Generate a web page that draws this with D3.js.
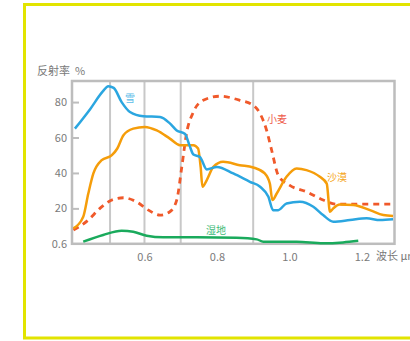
<!DOCTYPE html>
<html><head><meta charset="utf-8">
<script src="https://cdn.jsdelivr.net/npm/d3@7"></script>
<style>body{margin:0;background:#fff;}svg{display:block;font-family:"Noto Sans CJK SC","Noto Sans",sans-serif;}</style>
</head><body>
<svg id="c" width="410" height="341"></svg>
<script>
const xTicks = [0.6, 0.8, 1.0, 1.2];
const xTickLabels = ["0.6", "0.8", "1.0", "1.2"];
const yTicks = [0, 20, 40, 60, 80];
const yTickLabels = ["0.6", "20", "40", "60", "80"];
const gridX = [0.505, 0.6, 0.7, 0.9];
const seriesNames = ["雪", "小麦", "沙漠", "湿地"];

const snow = [[0.408,65],[0.45,76],[0.485,86],[0.5,89],[0.515,88],[0.537,80],[0.56,74.4],[0.597,72],[0.643,71.6],[0.67,68],[0.689,64],[0.712,62],[0.724,55.7],[0.735,50.4],[0.753,49],[0.772,42],[0.8,43.4],[0.845,39.7],[0.891,35],[0.919,32.2],[0.942,26.5],[0.955,19],[0.969,19],[0.992,22.8],[1.029,23.7],[1.066,20.9],[1.093,16.2],[1.121,12.5],[1.167,13.4],[1.213,14.4],[1.25,13.4],[1.286,13.8]];
const wheat = [[0.404,7.8],[0.445,13.4],[0.477,20],[0.51,24.7],[0.542,26],[0.578,23.7],[0.611,19],[0.643,16.2],[0.67,18.1],[0.689,24.7],[0.703,43.4],[0.716,62.3],[0.735,74.4],[0.762,81],[0.808,83.3],[0.863,81],[0.9,78.2],[0.919,73.5],[0.937,64.1],[0.951,52.8],[0.969,38.8],[1.0,33.1],[1.047,29.4],[1.093,24.7],[1.13,22.4],[1.2,22.4],[1.286,22.4]];
const desert = [[0.404,8.7],[0.431,15.3],[0.445,28.4],[0.459,39.7],[0.482,47.2],[0.51,50],[0.525,53.8],[0.542,61.3],[0.569,65],[0.601,66],[0.634,64],[0.67,59.4],[0.698,55.7],[0.735,55.7],[0.748,53.8],[0.755,43.4],[0.76,32.2],[0.772,36],[0.79,43.4],[0.817,46.3],[0.863,44.4],[0.9,43.1],[0.932,39.7],[0.946,34],[0.953,24.7],[0.965,28.4],[0.992,37.8],[1.02,42.5],[1.047,41.6],[1.084,37.8],[1.103,34],[1.112,18.1],[1.121,20],[1.139,22.2],[1.176,21.9],[1.222,19],[1.259,16.2],[1.286,15.7]];
const wetland = [[0.431,1.2],[0.486,5],[0.537,7.4],[0.569,6.8],[0.606,4.6],[0.652,3.7],[0.744,3.7],[0.854,3.4],[0.91,2.5],[0.928,1.2],[1.02,1.2],[1.093,0.3],[1.148,0.8],[1.19,1.7]];

const svg = d3.select("#c");
// yellow outer frame
svg.append("path").attr("d","M412,4.5 H24.5 V338 H412").attr("fill","none").attr("stroke","#e2e400").attr("stroke-width",3);

const L=72, R=394.5, T=81, B=243.8;
const x = d3.scaleLinear().domain([0.4, 1.29]).range([L, R]);
const y = d3.scaleLinear().domain([0, 91.9]).range([B, T]);

// vertical grid
svg.append("g").selectAll("line").data(gridX).join("line")
  .attr("x1",d=>x(d)).attr("x2",d=>x(d)).attr("y1",T).attr("y2",B)
  .attr("stroke","#c8c8c8").attr("stroke-width",2);

// frame
svg.append("rect").attr("x",L).attr("y",T).attr("width",R-L).attr("height",B-T)
  .attr("fill","none").attr("stroke","#bdbdbd").attr("stroke-width",2.5);

// y axis
const yAxis = d3.axisRight(y).tickValues(yTicks).tickSize(7).tickFormat((d,i)=>"");
const gy = svg.append("g").attr("transform",`translate(${L},0)`).call(yAxis);
gy.select(".domain").remove();
gy.selectAll("line").attr("stroke","#bdbdbd").attr("stroke-width",2);
gy.selectAll(".tick").filter(d=>d===0).select("line").remove();
svg.append("g").selectAll("text").data(yTicks).join("text")
  .attr("x",L-5).attr("y",d=>y(d)+4).attr("text-anchor","end")
  .attr("font-size",11).attr("fill","#7a7a7a").text((d,i)=>yTickLabels[i]);

// x labels
const xAxis = d3.axisBottom(x).tickValues(xTicks).tickSize(0).tickFormat((d,i)=>xTickLabels[i]);
const gx = svg.append("g").attr("transform",`translate(0,${B})`).call(xAxis);
gx.select(".domain").remove();
gx.selectAll("text").attr("font-size",11).attr("fill","#7a7a7a").attr("dy","1.3em")
  .attr("font-family","'Noto Sans CJK SC','Noto Sans',sans-serif");
svg.append("text").attr("x",376).attr("y",B+16).attr("font-size",11).attr("fill","#7a7a7a").text("波长 μm");
svg.append("text").attr("x",37).attr("y",75).attr("font-size",11).attr("fill","#7a7a7a").text("反射率");
svg.append("text").attr("x",75).attr("y",75).attr("font-size",11).attr("fill","#7a7a7a").text("%");

const line = d3.line().x(d=>x(d[0])).y(d=>y(d[1])).curve(d3.curveMonotoneX);
svg.append("path").datum(wetland).attr("d",line).attr("fill","none").attr("stroke","#1aaa5c").attr("stroke-width",2.5);
svg.append("path").datum(wheat).attr("d",line).attr("fill","none").attr("stroke","#f0592a").attr("stroke-width",2.8).attr("stroke-dasharray","6,5");
svg.append("path").datum(desert).attr("d",line).attr("fill","none").attr("stroke","#f59d0a").attr("stroke-width",2.5);
svg.append("path").datum(snow).attr("d",line).attr("fill","none").attr("stroke","#2ba6e0").attr("stroke-width",2.5);

const labels = [[125,102,"#5bbce8"],[267,123,"#ee5a4a"],[327,181,"#f5a623"],[206,234,"#3dbb78"]];
svg.append("g").selectAll("text").data(seriesNames).join("text")
  .attr("x",(d,i)=>labels[i][0]).attr("y",(d,i)=>labels[i][1]).attr("fill",(d,i)=>labels[i][2])
  .attr("font-size",10).text(d=>d);
</script>
</body></html>
